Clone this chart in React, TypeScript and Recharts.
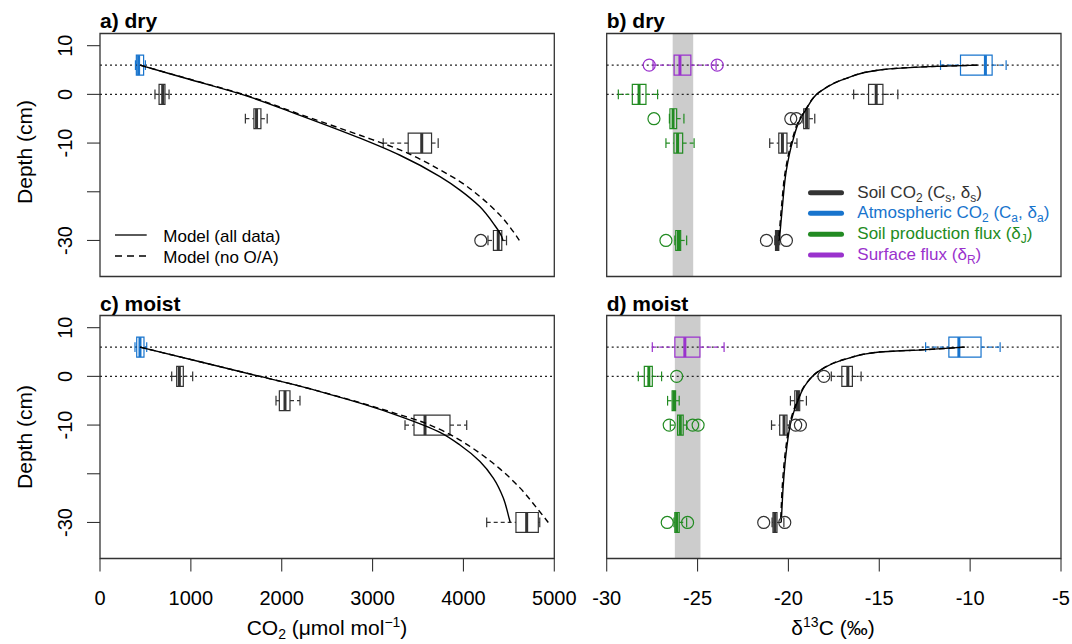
import React from 'react';
import { ComposedChart, XAxis, YAxis, Line, Scatter, ReferenceArea, ReferenceLine } from 'recharts';

const FONT = '"Liberation Sans", Arial, Helvetica, sans-serif';
const DARK = '#333333';
const BLUE = '#1874CD';
const GREEN = '#228B22';
const PURPLE = '#9A32CD';

// ---------- axes ----------
const depthDomain: [number, number] = [-37.4, 12.5];
const depthTicks = [10, 0, -10, -20, -30];
const co2Domain: [number, number] = [0, 5000];
const co2Ticks = [0, 1000, 2000, 3000, 4000, 5000];
const d13Domain: [number, number] = [-30, -5];
const d13Ticks = [-30, -25, -20, -15, -10, -5];
const referenceDepths = [6, 0];

type Box = { y: number; lo: number; q1: number; med: number; q3: number; hi: number; out?: number[] };
type Pt = { x: number; y: number };

// ---------- a) dry, CO2 ----------
const dryCO2Atm: Box[] = [{ y: 6, lo: 390, q1: 400, med: 425, q3: 480, hi: 500 }];
const dryCO2Soil: Box[] = [
  { y: 0, lo: 605, q1: 650, med: 690, q3: 715, hi: 760 },
  { y: -5, lo: 1600, q1: 1694, med: 1723, q3: 1771, hi: 1840 },
  { y: -10, lo: 3117, q1: 3392, med: 3541, q3: 3649, hi: 3722 },
  { y: -30, lo: 4270, q1: 4330, med: 4383, q3: 4422, hi: 4474, out: [4191] },
];
const dryCO2ModelAll: Pt[] = [
  { x: 440, y: 6 }, { x: 1000, y: 3 }, { x: 1560, y: 0 }, { x: 2201, y: -4.3 }, { x: 2862, y: -9.0 },
  { x: 3302, y: -12.5 }, { x: 3742, y: -16.9 }, { x: 3962, y: -19.65 }, { x: 4182, y: -23.1 },
  { x: 4329, y: -26.5 }, { x: 4421, y: -29.2 }, { x: 4435, y: -30 },
];
const dryCO2ModelNoOA: Pt[] = [
  { x: 440, y: 6 }, { x: 1000, y: 3.05 }, { x: 1560, y: 0.1 }, { x: 2201, y: -4.1 }, { x: 2862, y: -8.4 },
  { x: 3302, y: -11.4 }, { x: 3742, y: -15.5 }, { x: 3962, y: -17.9 }, { x: 4182, y: -21.0 },
  { x: 4402, y: -24.8 }, { x: 4549, y: -28.2 }, { x: 4615, y: -30 },
];

// ---------- c) moist, CO2 ----------
const moistCO2Atm: Box[] = [{ y: 6, lo: 385, q1: 404, med: 440, q3: 484, hi: 514 }];
const moistCO2Soil: Box[] = [
  { y: 0, lo: 789, q1: 844, med: 873, q3: 917, hi: 1020 },
  { y: -5, lo: 1937, q1: 1974, med: 2036, q3: 2091, hi: 2201 },
  { y: -10, lo: 3357, q1: 3456, med: 3577, q3: 3852, hi: 4036 },
  { y: -30, lo: 4256, q1: 4578, med: 4696, q3: 4824, hi: 4840 },
];
const moistCO2ModelAll: Pt[] = [
  { x: 440, y: 6 }, { x: 1100, y: 3 }, { x: 1760, y: 0 }, { x: 2200, y: -2.0 }, { x: 2568, y: -3.9 },
  { x: 2900, y: -5.7 }, { x: 3302, y: -8.2 }, { x: 3742, y: -11.5 }, { x: 3962, y: -14.1 },
  { x: 4182, y: -17.5 }, { x: 4329, y: -20.9 }, { x: 4439, y: -25.0 }, { x: 4505, y: -29.3 }, { x: 4515, y: -30 },
];
const moistCO2ModelNoOA: Pt[] = [
  { x: 440, y: 6 }, { x: 1100, y: 3 }, { x: 1760, y: 0 }, { x: 2200, y: -2.0 }, { x: 2568, y: -3.85 },
  { x: 2900, y: -5.6 }, { x: 3302, y: -7.9 }, { x: 3522, y: -9.2 }, { x: 3742, y: -10.9 },
  { x: 3962, y: -13.1 }, { x: 4182, y: -15.8 }, { x: 4402, y: -19.0 }, { x: 4622, y: -22.9 },
  { x: 4806, y: -27.0 }, { x: 4934, y: -30 },
];

// ---------- b) dry, d13C ----------
const dryBand: [number, number] = [-26.37, -25.24];
const dryD13Surface: Box[] = [{ y: 6, lo: -27.45, q1: -26.29, med: -25.97, q3: -25.37, hi: -23.98, out: [-27.66, -23.92] }];
const dryD13Prod: Box[] = [
  { y: 0, lo: -29.36, q1: -28.59, med: -28.22, q3: -27.84, hi: -27.2 },
  { y: -5, lo: -26.55, q1: -26.52, med: -26.35, q3: -26.15, hi: -25.75, out: [-27.4] },
  { y: -10, lo: -26.74, q1: -26.3, med: -26.1, q3: -25.82, hi: -25.19 },
  { y: -30, lo: -26.25, q1: -26.2, med: -26.05, q3: -25.93, hi: -25.6, out: [-26.74] },
];
const dryD13Soil: Box[] = [
  { y: 0, lo: -16.41, q1: -15.59, med: -15.17, q3: -14.8, hi: -13.98 },
  { y: -5, lo: -19.2, q1: -19.16, med: -19.0, q3: -18.87, hi: -18.55, out: [-19.87, -19.56] },
  { y: -10, lo: -21.03, q1: -20.53, med: -20.33, q3: -20.08, hi: -19.53 },
  { y: -30, lo: -20.75, q1: -20.71, med: -20.6, q3: -20.53, hi: -20.48, out: [-21.21, -20.11] },
];
const dryD13Atm: Box[] = [{ y: 6, lo: -11.63, q1: -10.53, med: -9.16, q3: -8.79, hi: -8.02 }];
const dryD13ModelAll: Pt[] = [
  { x: -9.6, y: 6 }, { x: -12.25, y: 5.7 }, { x: -14.99, y: 5.0 }, { x: -16.81, y: 3.3 }, { x: -18.28, y: 0.5 },
  { x: -19.0, y: -2.9 }, { x: -19.38, y: -5.3 }, { x: -19.75, y: -9.4 }, { x: -20.11, y: -15.5 },
  { x: -20.33, y: -23 }, { x: -20.48, y: -29.2 }, { x: -20.5, y: -30 },
];
const dryD13ModelNoOA: Pt[] = [
  { x: -9.6, y: 6 }, { x: -12.25, y: 5.7 }, { x: -14.99, y: 5.0 }, { x: -16.81, y: 3.3 }, { x: -18.28, y: 0.5 },
  { x: -19.02, y: -2.9 }, { x: -19.42, y: -5.3 }, { x: -19.8, y: -9.4 }, { x: -20.16, y: -15.5 },
  { x: -20.38, y: -23 }, { x: -20.52, y: -29.2 }, { x: -20.54, y: -30 },
];

// ---------- d) moist, d13C ----------
const moistBand: [number, number] = [-26.25, -24.84];
const moistD13Surface: Box[] = [{ y: 6, lo: -27.49, q1: -26.25, med: -25.7, q3: -24.87, hi: -23.54 }];
const moistD13Prod: Box[] = [
  { y: 0, lo: -28.26, q1: -27.93, med: -27.68, q3: -27.49, hi: -26.98, out: [-26.15] },
  { y: -5, lo: -26.65, q1: -26.4, med: -26.3, q3: -26.21, hi: -26.01 },
  { y: -10, lo: -26.5, q1: -26.1, med: -25.95, q3: -25.79, hi: -25.6, out: [-26.56, -25.27, -24.97] },
  { y: -30, lo: -26.3, q1: -26.25, med: -26.15, q3: -26.01, hi: -25.6, out: [-26.67, -25.55] },
];
const moistD13Soil: Box[] = [
  { y: 0, lo: -17.64, q1: -17.06, med: -16.73, q3: -16.48, hi: -16.0, out: [-18.05] },
  { y: -5, lo: -19.89, q1: -19.65, med: -19.5, q3: -19.38, hi: -19.01 },
  { y: -10, lo: -20.93, q1: -20.48, med: -20.24, q3: -20.08, hi: -19.93, out: [-19.6, -19.34] },
  { y: -30, lo: -20.9, q1: -20.85, med: -20.75, q3: -20.63, hi: -20.25, out: [-21.36, -20.2] },
];
const moistD13Atm: Box[] = [{ y: 6, lo: -12.45, q1: -11.17, med: -10.62, q3: -9.4, hi: -8.35 }];
const moistD13ModelAll: Pt[] = [
  { x: -10.3, y: 6 }, { x: -12.42, y: 5.5 }, { x: -14.99, y: 5.0 }, { x: -16.81, y: 3.6 }, { x: -18.28, y: 1.2 },
  { x: -19.01, y: -1.5 }, { x: -19.47, y: -4.9 }, { x: -19.84, y: -9.0 }, { x: -20.11, y: -15.2 },
  { x: -20.29, y: -22.7 }, { x: -20.38, y: -28.8 }, { x: -20.4, y: -30 },
];
const moistD13ModelNoOA: Pt[] = [
  { x: -10.3, y: 6 }, { x: -12.42, y: 5.5 }, { x: -14.99, y: 5.0 }, { x: -16.81, y: 3.6 }, { x: -18.28, y: 1.2 },
  { x: -19.03, y: -1.5 }, { x: -19.5, y: -4.9 }, { x: -19.88, y: -9.0 }, { x: -20.16, y: -15.2 },
  { x: -20.34, y: -22.7 }, { x: -20.42, y: -28.8 }, { x: -20.44, y: -30 },
];

// ---------- rendering helpers ----------
const BOX_HALF = 2.05;
const CAP_HALF = 1.0;

function boxElements(b: Box, color: string, key: string) {
  const els: React.ReactNode[] = [];
  const w = { stroke: color, strokeWidth: 1.2, strokeDasharray: '4 3' };
  if (b.lo < b.q1) els.push(<ReferenceLine key={key + 'wl'} segment={[{ x: b.lo, y: b.y }, { x: b.q1, y: b.y }]} {...w} />);
  if (b.hi > b.q3) els.push(<ReferenceLine key={key + 'wh'} segment={[{ x: b.q3, y: b.y }, { x: b.hi, y: b.y }]} {...w} />);
  els.push(<ReferenceLine key={key + 'cl'} segment={[{ x: b.lo, y: b.y - CAP_HALF }, { x: b.lo, y: b.y + CAP_HALF }]} stroke={color} strokeWidth={1.2} />);
  els.push(<ReferenceLine key={key + 'ch'} segment={[{ x: b.hi, y: b.y - CAP_HALF }, { x: b.hi, y: b.y + CAP_HALF }]} stroke={color} strokeWidth={1.2} />);
  els.push(
    <ReferenceArea key={key + 'b'} x1={b.q1} x2={b.q3} y1={b.y - BOX_HALF} y2={b.y + BOX_HALF}
      fill="none" fillOpacity={0} stroke={color} strokeWidth={1.2} />
  );
  els.push(<ReferenceLine key={key + 'm'} segment={[{ x: b.med, y: b.y - BOX_HALF }, { x: b.med, y: b.y + BOX_HALF }]} stroke={color} strokeWidth={3} />);
  return els;
}

const DepthTick = (props: any) => {
  const { x, y, payload } = props;
  const label = payload.value === -20 ? '' : String(payload.value);
  const bx = x - 15.3;
  return (
    <text x={bx} y={y} transform={`rotate(-90 ${bx} ${y})`} textAnchor="middle" fontSize={20} fontFamily={FONT} fill="#000">
      {label}
    </text>
  );
};

type Group = { name: string; color: string; boxes: Box[] };
type Curve = { name: string; data: Pt[]; dashed: boolean };

type PanelProps = {
  left: number; top: number; width: number; height: number;
  marginTop: number; marginRight: number; yAxisWidth: number; xAxisHeight: number;
  xDomain: [number, number]; xTicks: number[]; showXLabels: boolean; showYLabels: boolean;
  groups: Group[]; curves: Curve[]; band?: [number, number];
};

function Panel(p: PanelProps) {
  return (
    <div style={{ position: 'absolute', left: p.left, top: p.top, width: p.width, height: p.height }}>
      <ComposedChart width={p.width} height={p.height} margin={{ top: p.marginTop, right: p.marginRight, bottom: 0, left: 0 }}>
        <XAxis
          type="number" dataKey="x" domain={p.xDomain} ticks={p.xTicks} allowDataOverflow interval={0}
          tickSize={13} tickMargin={19} axisLine={false} tickLine={{ stroke: DARK, strokeWidth: 1.1 }}
          tick={p.showXLabels ? { fontSize: 20, fill: '#000', fontFamily: FONT } : false}
          height={p.xAxisHeight}
        />
        <YAxis
          type="number" dataKey="y" domain={depthDomain} ticks={depthTicks} allowDataOverflow interval={0}
          tickSize={13} tickMargin={0} axisLine={false} tickLine={{ stroke: DARK, strokeWidth: 1.1 }}
          tick={p.showYLabels ? (tp: any) => <DepthTick {...tp} /> : false}
          width={p.yAxisWidth}
        />
        {p.band && <ReferenceArea x1={p.band[0]} x2={p.band[1]} fill="#cccccc" fillOpacity={1} stroke="none" />}
        {referenceDepths.map((d) => (
          <ReferenceLine key={'ref' + d} y={d} stroke="#222" strokeDasharray="2 3" strokeWidth={1.3} />
        ))}
        {p.groups.flatMap((g) => g.boxes.flatMap((b, i) => boxElements(b, g.color, `${g.name}-${i}-`)))}
        {p.groups.map((g) => {
          const pts = g.boxes.flatMap((b) => (b.out || []).map((o) => ({ x: o, y: b.y })));
          if (!pts.length) return null;
          return (
            <Scatter
              key={g.name + 'out'} name={g.name} data={pts} isAnimationActive={false}
              shape={(sp: any) => <circle cx={sp.cx} cy={sp.cy} r={6} fill="none" stroke={g.color} strokeWidth={1.2} />}
            />
          );
        })}
        {p.curves.map((c) => (
          <Line
            key={c.name} name={c.name} data={c.data} dataKey="y" type="monotoneY" stroke="#000" strokeWidth={1.4}
            strokeDasharray={c.dashed ? '6 4' : undefined} dot={false} activeDot={false} isAnimationActive={false}
          />
        ))}
        <ReferenceArea x1={p.xDomain[0]} x2={p.xDomain[1]} y1={depthDomain[0]} y2={depthDomain[1]}
          fill="none" fillOpacity={0} stroke={DARK} strokeWidth={1.3} />
      </ComposedChart>
    </div>
  );
}

const SUB = { fontSize: 12 };

export default function App() {
  const topCommon = { top: 0, height: 300, marginTop: 33.5, xAxisHeight: 23.5, showXLabels: false };
  const botCommon = { top: 300, height: 344, marginTop: 15.5, xAxisHeight: 85.5, showXLabels: true };
  const leftCommon = { left: 0, width: 600, marginRight: 45.7, yAxisWidth: 100, xDomain: co2Domain, xTicks: co2Ticks, showYLabels: true };
  const rightCommon = { left: 570, width: 502, marginRight: 11, yAxisWidth: 36.7, xDomain: d13Domain, xTicks: d13Ticks, showYLabels: false };

  return (
    <div style={{ position: 'absolute', left: 0, top: 0, width: 1072, height: 644, background: '#fff', fontFamily: FONT }}>
      <Panel {...topCommon} {...leftCommon}
        groups={[{ name: 'atmA', color: BLUE, boxes: dryCO2Atm }, { name: 'soilA', color: DARK, boxes: dryCO2Soil }]}
        curves={[{ name: 'allA', data: dryCO2ModelAll, dashed: false }, { name: 'noA', data: dryCO2ModelNoOA, dashed: true }]}
      />
      <Panel {...topCommon} {...rightCommon} band={dryBand}
        groups={[
          { name: 'surfB', color: PURPLE, boxes: dryD13Surface },
          { name: 'prodB', color: GREEN, boxes: dryD13Prod },
          { name: 'soilB', color: DARK, boxes: dryD13Soil },
          { name: 'atmB', color: BLUE, boxes: dryD13Atm },
        ]}
        curves={[{ name: 'allB', data: dryD13ModelAll, dashed: false }, { name: 'noB', data: dryD13ModelNoOA, dashed: true }]}
      />
      <Panel {...botCommon} {...leftCommon}
        groups={[{ name: 'atmC', color: BLUE, boxes: moistCO2Atm }, { name: 'soilC', color: DARK, boxes: moistCO2Soil }]}
        curves={[{ name: 'allC', data: moistCO2ModelAll, dashed: false }, { name: 'noC', data: moistCO2ModelNoOA, dashed: true }]}
      />
      <Panel {...botCommon} {...rightCommon} band={moistBand}
        groups={[
          { name: 'surfD', color: PURPLE, boxes: moistD13Surface },
          { name: 'prodD', color: GREEN, boxes: moistD13Prod },
          { name: 'soilD', color: DARK, boxes: moistD13Soil },
          { name: 'atmD', color: BLUE, boxes: moistD13Atm },
        ]}
        curves={[{ name: 'allD', data: moistD13ModelAll, dashed: false }, { name: 'noD', data: moistD13ModelNoOA, dashed: true }]}
      />

      <svg width={1072} height={644} style={{ position: 'absolute', left: 0, top: 0, pointerEvents: 'none' }} fontFamily={FONT}>
        {/* panel titles */}
        <text x={100} y={28} fontSize={21} fontWeight="bold" fill="#000">a) dry</text>
        <text x={606.7} y={28} fontSize={21} fontWeight="bold" fill="#000">b) dry</text>
        <text x={100} y={310.5} fontSize={21} fontWeight="bold" fill="#000">c) moist</text>
        <text x={606.7} y={310.5} fontSize={21} fontWeight="bold" fill="#000">d) moist</text>

        {/* y axis titles */}
        <text x={32} y={152} transform="rotate(-90 32 152)" textAnchor="middle" fontSize={21} fill="#000">Depth (cm)</text>
        <text x={32} y={437} transform="rotate(-90 32 437)" textAnchor="middle" fontSize={21} fill="#000">Depth (cm)</text>

        {/* x axis titles */}
        <text x={327} y={635} textAnchor="middle" fontSize={21} fill="#000">
          CO<tspan fontSize={14} dy={4}>2</tspan><tspan dy={-4}> (μmol mol</tspan><tspan fontSize={14} dy={-8}>−1</tspan><tspan dy={8}>)</tspan>
        </text>
        <text x={833} y={635} textAnchor="middle" fontSize={21} fill="#000">
          δ<tspan fontSize={14} dy={-8}>13</tspan><tspan dy={8}>C (‰)</tspan>
        </text>

        {/* legend, panel a */}
        <line x1={115} y1={235} x2={146.7} y2={235} stroke="#000" strokeWidth={1.3} />
        <line x1={115} y1={256} x2={146.7} y2={256} stroke="#000" strokeWidth={1.3} strokeDasharray="7 5" />
        <text x={163.3} y={241.7} fontSize={17} fill="#000">Model (all data)</text>
        <text x={163.3} y={262.7} fontSize={17} fill="#000">Model (no O/A)</text>

        {/* legend, panel b */}
        <line x1={810.5} y1={192.7} x2={841.5} y2={192.7} stroke={DARK} strokeWidth={5} strokeLinecap="round" />
        <line x1={810.5} y1={213.3} x2={841.5} y2={213.3} stroke={BLUE} strokeWidth={5} strokeLinecap="round" />
        <line x1={810.5} y1={234.3} x2={841.5} y2={234.3} stroke={GREEN} strokeWidth={5} strokeLinecap="round" />
        <line x1={810.5} y1={255} x2={841.5} y2={255} stroke={PURPLE} strokeWidth={5} strokeLinecap="round" />
        <text x={857.3} y={197.5} fontSize={17} fill={DARK}>
          Soil CO<tspan {...SUB} dy={4}>2</tspan><tspan dy={-4}> (C</tspan><tspan {...SUB} dy={4}>s</tspan><tspan dy={-4}>, δ</tspan><tspan {...SUB} dy={4}>s</tspan><tspan dy={-4}>)</tspan>
        </text>
        <text x={857.3} y={218.1} fontSize={17} fill={BLUE}>
          Atmospheric CO<tspan {...SUB} dy={4}>2</tspan><tspan dy={-4}> (C</tspan><tspan {...SUB} dy={4}>a</tspan><tspan dy={-4}>, δ</tspan><tspan {...SUB} dy={4}>a</tspan><tspan dy={-4}>)</tspan>
        </text>
        <text x={857.3} y={239.1} fontSize={17} fill={GREEN}>
          Soil production flux (δ<tspan {...SUB} dy={4}>J</tspan><tspan dy={-4}>)</tspan>
        </text>
        <text x={857.3} y={259.8} fontSize={17} fill={PURPLE}>
          Surface flux (δ<tspan {...SUB} dy={4}>R</tspan><tspan dy={-4}>)</tspan>
        </text>
      </svg>
    </div>
  );
}
